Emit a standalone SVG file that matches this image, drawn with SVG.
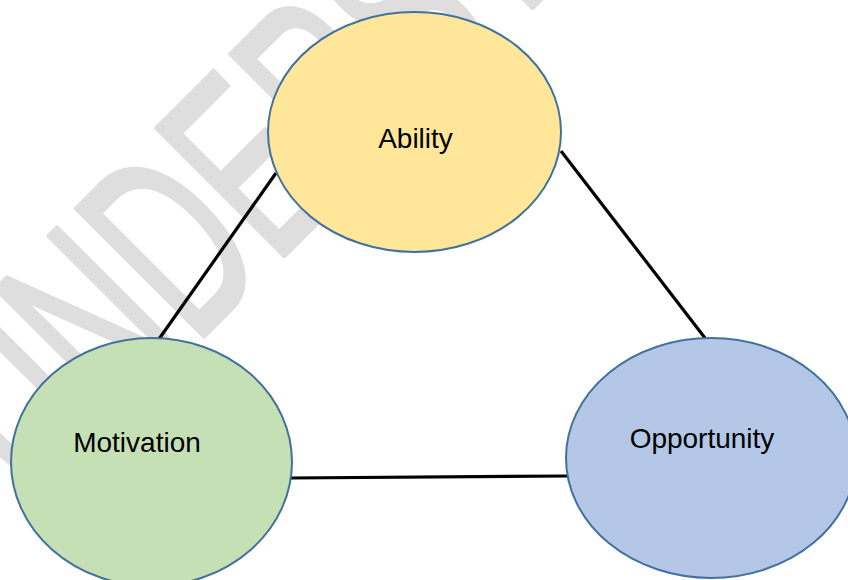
<svg xmlns="http://www.w3.org/2000/svg" width="848" height="580" viewBox="0 0 848 580">
  <style>
    .node { stroke: #41719c; stroke-width: 2; }
    .label { font-family: "Liberation Sans", Arial, sans-serif; font-size: 28px; fill: #000000; text-anchor: middle; }
    .edge { stroke: #000000; stroke-width: 3.2; fill: none; }
    .wm { font-family: "Liberation Sans", Arial, sans-serif; font-size: 262px; fill: #dedede; stroke: #dedede; stroke-width: 5; stroke-linejoin: round; }
  </style>
  <rect x="0" y="0" width="848" height="580" fill="#ffffff"/>
  <g id="watermark">
    <text class="wm" transform="translate(203,337) rotate(-45) scale(0.6,1)" x="-399" y="0">UNDERSTANDING</text>
  </g>
  <g id="connectors">
    <line class="edge" x1="276" y1="173" x2="159" y2="339"/>
    <line class="edge" x1="561" y1="151" x2="705" y2="338"/>
    <line class="edge" x1="290" y1="478" x2="568" y2="476"/>
  </g>
  <g id="node-ability">
    <ellipse class="node" cx="414.5" cy="132" rx="146.5" ry="120" fill="#ffe699"/>
    <text class="label" x="415.5" y="148">Ability</text>
  </g>
  <g id="node-motivation">
    <ellipse class="node" cx="151.5" cy="462" rx="140.5" ry="124" fill="#c5e0b4"/>
    <text class="label" x="137" y="452">Motivation</text>
  </g>
  <g id="node-opportunity">
    <ellipse class="node" cx="711" cy="458" rx="145" ry="120" fill="#b4c7e7"/>
    <text class="label" x="702" y="448">Opportunity</text>
  </g>
</svg>
